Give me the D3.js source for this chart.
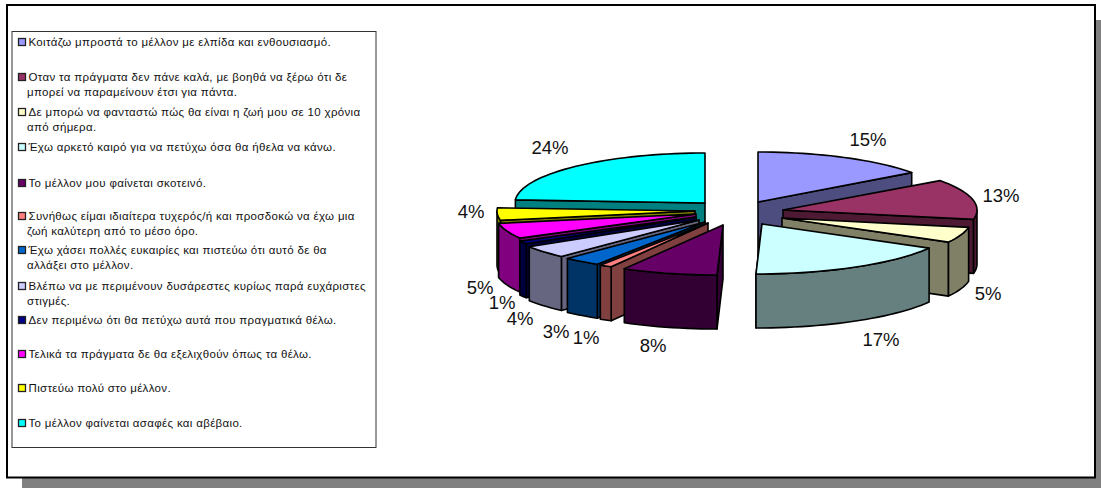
<!DOCTYPE html>
<html><head><meta charset="utf-8">
<script src="https://cdnjs.cloudflare.com/ajax/libs/d3/7.8.5/d3.min.js"></script>
<style>html,body{margin:0;padding:0;background:#fff}svg{display:block}text{font-family:"Liberation Sans",Arial,sans-serif}</style>
</head><body><svg id="c" width="1101" height="488"></svg>
<script>
const categories = [
  ["Κοιτάζω μπροστά το μέλλον με ελπίδα και ενθουσιασμό."],
  ["Οταν τα πράγματα δεν πάνε καλά, με βοηθά να ξέρω ότι δε","μπορεί να παραμείνουν  έτσι για πάντα."],
  ["Δε μπορώ να φανταστώ πώς θα είναι η ζωή μου σε 10 χρόνια","από σήμερα."],
  ["Έχω αρκετό καιρό για να πετύχω όσα θα ήθελα να κάνω."],
  ["Το μέλλον μου φαίνεται σκοτεινό."],
  ["Συνήθως είμαι ιδιαίτερα τυχερός/ή και προσδοκώ να έχω μια","ζωή καλύτερη από το μέσο όρο."],
  ["Έχω χάσει πολλές ευκαιρίες και πιστεύω ότι αυτό δε θα","αλλάξει στο μέλλον."],
  ["Βλέπω να με περιμένουν δυσάρεστες κυρίως παρά ευχάριστες","στιγμές."],
  ["Δεν περιμένω ότι θα πετύχω αυτά που πραγματικά θέλω."],
  ["Τελικά τα πράγματα δε θα εξελιχθούν όπως τα θέλω."],
  ["Πιστεύω πολύ στο μέλλον."],
  ["Το μέλλον φαίνεται ασαφές και αβέβαιο."]
];
const values = [15,13,5,17,8,1,3,4,1,5,4,24];
const topColors = ["#9999FF","#993366","#FFFFCC","#CCFFFF","#660066","#FF8080","#0066CC","#CCCCFF","#000080","#FF00FF","#FFFF00","#00FFFF"];
const sideColors = ["#4D4D80","#4D1933","#808066","#668080","#330033","#804040","#003366","#666680","#000040","#800080","#808000","#008080"];
// exploded-slice layout: apex of each slice, horizontal radius, horizontal shear
const apexX = [758,783,782,762,723,708,705,699,696,696,695,705];
const apexY = [202,210,218,224,225,223,222,220,217,214,211,203];
const radiusX = [190,194,190,194,194,201,201,201,201,201,198,190];
const shear = [0,0,0,6,6,0,0,0,0,0,0,0];
const labelX = [868,1001,988,881,653,586,556,520,502,480,471,550];
const labelY = [139,195,293,339,345,337,331,318,302,287,211,147];
const radiusY = 50, depth = 54;
const drawOrder = [0,1,2,3,11,10,9,8,7,6,5,4];

const svg = d3.select("#c");
// frame with drop shadow
svg.append("rect").attr("x",22).attr("y",20).attr("width",1079).attr("height",468).attr("fill","#808080");
svg.append("rect").attr("x",7).attr("y",5).attr("width",1088).attr("height",472.5).attr("fill","#fff").attr("stroke","#000").attr("stroke-width",2);

const arcs = d3.pie().sort(null).value(d=>d).startAngle(0).endAngle(2*Math.PI)(values);
const line = d3.line();
const rimSteps = a => d3.range(0, 1.0001, 1/Math.max(2, Math.ceil(Math.abs(a.endAngle-a.startAngle)/0.04)));
function pt(i,ang,r,dz){
  return [apexX[i] + r*(radiusX[i]*Math.sin(ang) + shear[i]*Math.cos(ang)),
          apexY[i] - r*radiusY*Math.cos(ang) + dz];
}
const g = svg.append("g").attr("stroke","#000").attr("stroke-width",1.6).attr("stroke-linejoin","round");
function face(points, fill){ g.append("path").attr("d", line(points)+"Z").attr("fill",fill); }
drawOrder.forEach(i=>{
  const a = arcs[i], s = a.startAngle, e = a.endAngle;
  // radial face toward the viewer
  const faceAngle = e <= Math.PI+1e-6 ? e : s;
  face([pt(i,0,0,0),pt(i,faceAngle,1,0),pt(i,faceAngle,1,depth),pt(i,0,0,depth)], sideColors[i]);
  // curved outer wall on the front half
  const w0 = Math.max(s,Math.PI/2), w1 = Math.min(e,1.5*Math.PI);
  if (w1>w0){
    const ts = rimSteps({startAngle:w0,endAngle:w1}).map(t=>w0+(w1-w0)*t);
    face(ts.map(t=>pt(i,t,1,0)).concat(ts.slice().reverse().map(t=>pt(i,t,1,depth))), sideColors[i]);
  }
  // top
  const ts = rimSteps(a).map(t=>s+(e-s)*t);
  face([pt(i,0,0,0)].concat(ts.map(t=>pt(i,t,1,0))), topColors[i]);
});
// percent labels
svg.append("g").selectAll("text").data(values).join("text")
  .attr("x",(d,i)=>labelX[i]).attr("y",(d,i)=>labelY[i]+6.5)
  .attr("text-anchor","middle").attr("font-size",18.5).attr("fill","#111")
  .text(d=>d+"%");
// legend
svg.append("rect").attr("x",12).attr("y",31.5).attr("width",364).attr("height",416).attr("fill","#fff").attr("stroke","#333").attr("stroke-width",1);
const legendY = [42,77,112,147,183,216,250,286,320,354,388,423];
const lg = svg.append("g").selectAll("g").data(categories).join("g").attr("transform",(d,i)=>`translate(0,${legendY[i]})`);
lg.append("rect").attr("x",18.5).attr("y",-3.5).attr("width",7).attr("height",7).attr("fill",(d,i)=>topColors[i]).attr("stroke","#222").attr("stroke-width",1.3);
lg.selectAll("text").data(d=>d).join("text").attr("x",(d,j)=>j?27:28.5).attr("y",(d,j)=>4+j*15).attr("font-size",11.5).attr("letter-spacing",0.33).attr("fill","#111").text(d=>d);
</script></body></html>
